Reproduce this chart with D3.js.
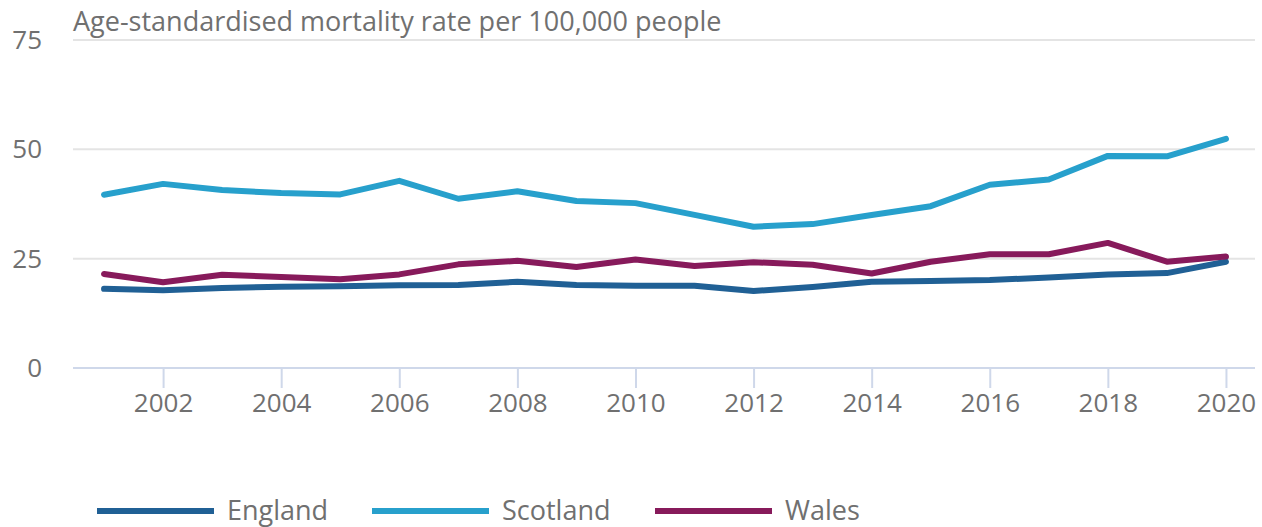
<!DOCTYPE html>
<html>
<head>
<meta charset="utf-8">
<script src="https://cdn.jsdelivr.net/npm/d3@7"></script>
<style>
  body { margin: 0; background: #fff; font-family: "Open Sans", sans-serif; }
  svg text { fill: #707070; }
</style>
</head>
<body>
<svg></svg>
<script>
const size = {w: 1262, h: 527};
const margin = {t: 40, r: 7, b: 159, l: 73};

// data
const years = d3.range(2001, 2021);
const england = [18.1, 17.8, 18.3, 18.6, 18.7, 18.9, 19.0, 19.7, 19.0, 18.8, 18.8, 17.6, 18.5, 19.7, 19.9, 20.1, 20.7, 21.4, 21.7, 24.3];
const scotland = [39.6, 42.1, 40.7, 40.0, 39.7, 42.8, 38.7, 40.4, 38.2, 37.7, 35.0, 32.3, 32.9, 35.0, 37.0, 41.9, 43.1, 48.5, 48.4, 52.4];
const wales = [21.5, 19.6, 21.3, 20.8, 20.3, 21.4, 23.7, 24.5, 23.1, 24.8, 23.3, 24.2, 23.6, 21.6, 24.3, 26.0, 26.0, 28.6, 24.3, 25.5];
const seriesNames = ['England', 'Scotland', 'Wales'];
const yTicks = [0, 25, 50, 75];
const xTicks = [2002, 2004, 2006, 2008, 2010, 2012, 2014, 2016, 2018, 2020];
const colours = ['#206095', '#27a0cc', '#871a5b'];

const svg = d3.select('svg')
    .attr('width', size.w)
    .attr('height', size.h);

const x = d3.scaleLinear()
    .domain([2000, 2021])
    .range([45, 1285]);
const y = d3.scaleLinear()
    .domain([0, 75])
    .range([368, 40]);

const plotL = margin.l, plotR = size.w - margin.r;

// horizontal gridlines
svg.append('g').classed('grid', true)
    .selectAll('line')
    .data(yTicks.filter(d => d > 0))
    .join('line')
    .attr('x1', plotL).attr('x2', plotR)
    .attr('y1', d => y(d)).attr('y2', d => y(d))
    .attr('stroke', '#e4e4e4')
    .attr('stroke-width', 2);

// y tick labels
svg.append('g').classed('y-labels', true)
    .selectAll('text')
    .data(yTicks)
    .join('text')
    .attr('x', 42)
    .attr('y', d => y(d))
    .attr('dy', '0.35em')
    .attr('text-anchor', 'end')
    .style('font-size', '26px')
    .text(d => d);

// x axis
const xAxis = d3.axisBottom(x)
    .tickValues(xTicks)
    .tickFormat(d3.format('d'))
    .tickSize(20)
    .tickPadding(6);
const xg = svg.append('g')
    .attr('transform', `translate(0,${y(0)})`)
    .call(xAxis);
xg.select('.domain').remove();
xg.selectAll('.tick line').attr('stroke', '#cfd8ea').attr('stroke-width', 2);
xg.selectAll('.tick text').style('font-size', '26px').style('font-family', '"Open Sans", sans-serif').attr('fill', '#707070');
xg.append('line')
    .attr('x1', plotL).attr('x2', plotR)
    .attr('stroke', '#cfd8ea').attr('stroke-width', 2);

// title
svg.append('text')
    .attr('x', plotL)
    .attr('y', 31)
    .style('font-size', '27px')
    .text('Age-standardised mortality rate per 100,000 people');

// lines
const allSeries = [england, scotland, wales];
const line = d3.line()
    .x((d, i) => x(years[i]))
    .y(d => y(d));

svg.append('g').classed('lines', true)
    .selectAll('path')
    .data(allSeries)
    .join('path')
    .attr('d', d => line(d))
    .attr('fill', 'none')
    .attr('stroke', (d, i) => colours[i])
    .attr('stroke-width', 6)
    .attr('stroke-linejoin', 'round')
    .attr('stroke-linecap', 'round');

// legend
const legendX = [97, 372, 655];
const legend = svg.append('g').classed('legend', true)
    .selectAll('g')
    .data(seriesNames)
    .join('g')
    .attr('transform', (d, i) => `translate(${legendX[i]},511)`);
legend.append('line')
    .attr('x1', 0).attr('x2', 117)
    .attr('stroke', (d, i) => colours[i])
    .attr('stroke-width', 6);
legend.append('text')
    .attr('x', 130)
    .attr('dy', '0.35em')
    .style('font-size', '27px')
    .text(d => d);
</script>
</body>
</html>
